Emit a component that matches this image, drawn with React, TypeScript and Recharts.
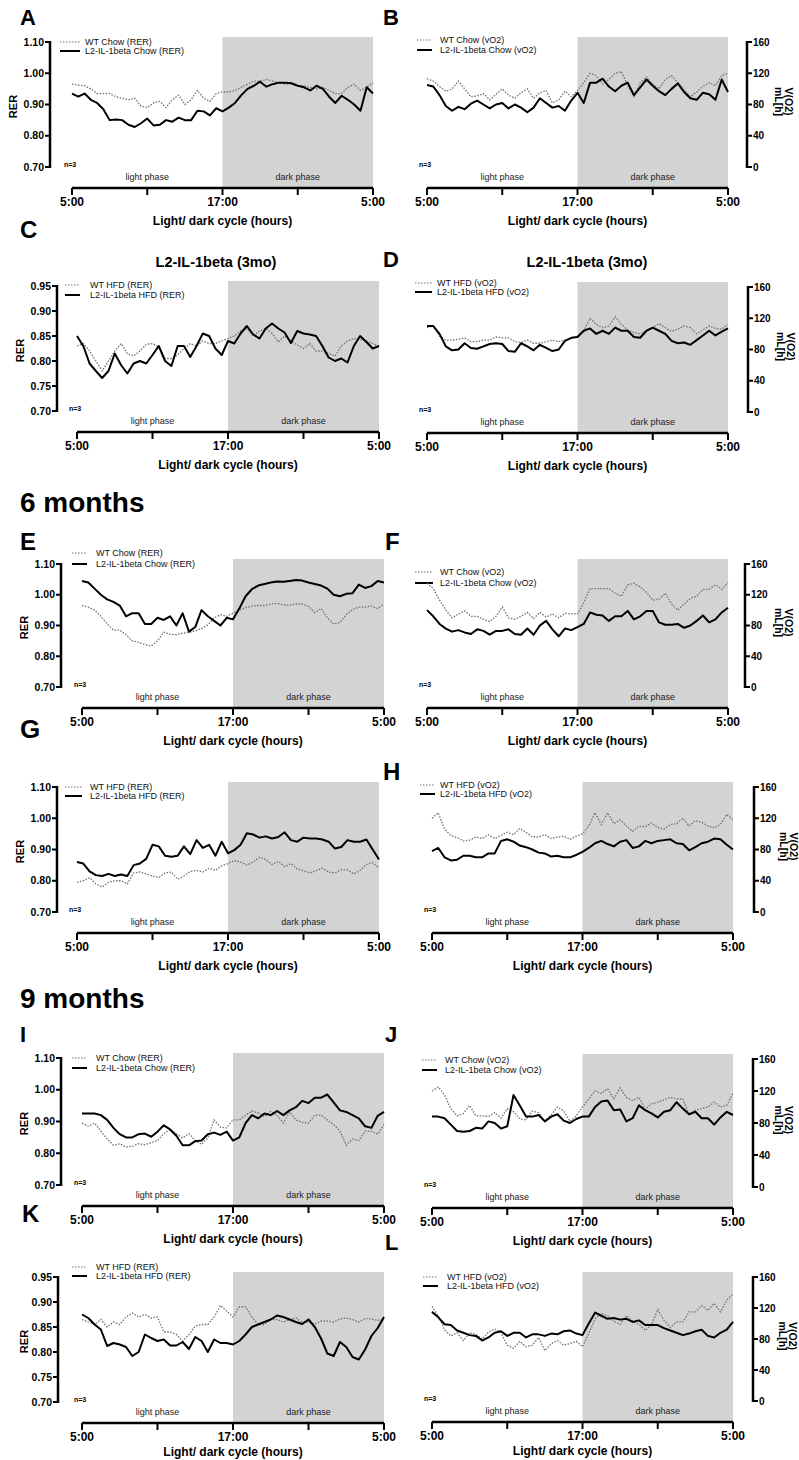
import React from 'react';
import { LineChart, Line, XAxis, YAxis, ReferenceArea, ReferenceLine } from 'recharts';

const FONT = '"Liberation Sans", Arial, Helvetica, sans-serif';
const SHADE = '#d3d3d3';
const WT_GREY = '#707070';

// sampling grid: hours after lights-on (5:00), every 30 min
const hours = [
  0, 0.5, 1, 1.5, 2, 2.5, 3, 3.5, 4, 4.5, 5, 5.5,
  6, 6.5, 7, 7.5, 8, 8.5, 9, 9.5, 10, 10.5, 11, 11.5,
  12, 12.5, 13, 13.5, 14, 14.5, 15, 15.5, 16, 16.5, 17, 17.5,
  18, 18.5, 19, 19.5, 20, 20.5, 21, 21.5, 22, 22.5, 23, 23.5, 24,
];
const hourTicks = [0, 6, 12, 18, 24];
const hourLabels = ['5:00', '', '17:00', '', '5:00'];
const rerTicks = [0.7, 0.8, 0.9, 1.0, 1.1];
const rerHfdTicks = [0.7, 0.75, 0.8, 0.85, 0.9, 0.95];
const vo2Ticks = [0, 40, 80, 120, 160];

// 3 months, chow
const aWt = [0.965, 0.962, 0.96, 0.95, 0.935, 0.935, 0.935, 0.925, 0.92, 0.915, 0.92, 0.895,
  0.89, 0.905, 0.91, 0.89, 0.915, 0.93, 0.9, 0.915, 0.945, 0.92, 0.91, 0.935,
  0.94, 0.94, 0.945, 0.955, 0.965, 0.975, 0.975, 0.98, 0.975, 0.97, 0.965, 0.965,
  0.96, 0.96, 0.955, 0.95, 0.955, 0.945, 0.935, 0.935, 0.955, 0.965, 0.945, 0.955, 0.97];
const aTg = [0.935, 0.925, 0.935, 0.915, 0.905, 0.885, 0.85, 0.852, 0.85, 0.835, 0.828, 0.84,
  0.855, 0.833, 0.835, 0.85, 0.845, 0.858, 0.85, 0.85, 0.88, 0.878, 0.865, 0.888,
  0.878, 0.89, 0.905, 0.93, 0.95, 0.96, 0.973, 0.957, 0.965, 0.97, 0.97, 0.968,
  0.96, 0.955, 0.945, 0.96, 0.95, 0.925, 0.905, 0.928, 0.915, 0.9, 0.88, 0.955, 0.935];
const bWt = [113, 110, 103, 97, 100, 110, 100, 90, 91, 94, 86, 93,
  100, 92, 88, 95, 100, 88, 95, 98, 82, 86, 97, 90,
  98, 108, 120, 117, 106, 112, 120, 122, 104, 90, 108, 115,
  106, 100, 112, 117, 108, 99, 90, 96, 103, 108, 104, 117, 120];
const bTg = [105, 103, 92, 78, 72, 77, 74, 81, 85, 80, 75, 80,
  82, 75, 80, 76, 70, 76, 88, 82, 76, 78, 72, 85,
  95, 82, 108, 108, 113, 103, 97, 104, 108, 92, 102, 112,
  104, 97, 92, 100, 107, 96, 88, 86, 95, 93, 86, 112, 96];

// 3 months, HFD
const cWt = [0.83, 0.835, 0.82, 0.8, 0.78, 0.8, 0.82, 0.835, 0.815, 0.81, 0.82, 0.833,
  0.835, 0.828, 0.805, 0.805, 0.812, 0.825, 0.835, 0.83, 0.84, 0.835, 0.835, 0.84,
  0.845, 0.85, 0.86, 0.865, 0.85, 0.86, 0.865, 0.855, 0.838, 0.85, 0.84, 0.832,
  0.825, 0.835, 0.82, 0.82, 0.815, 0.81, 0.83, 0.84, 0.845, 0.843, 0.84, 0.835, 0.83];
const cTg = [0.85, 0.83, 0.795, 0.78, 0.766, 0.78, 0.815, 0.792, 0.775, 0.795, 0.8, 0.795,
  0.812, 0.83, 0.8, 0.79, 0.83, 0.83, 0.808, 0.83, 0.855, 0.85, 0.825, 0.812,
  0.84, 0.835, 0.855, 0.87, 0.853, 0.845, 0.865, 0.875, 0.865, 0.857, 0.836, 0.86,
  0.855, 0.853, 0.85, 0.83, 0.807, 0.8, 0.805, 0.797, 0.83, 0.85, 0.838, 0.825, 0.83];
const dWt = [108, 110, 97, 92, 92, 93, 95, 90, 90, 92, 92, 96,
  95, 95, 90, 89, 92, 88, 88, 90, 92, 90, 92, 94,
  97, 104, 120, 112, 108, 110, 122, 112, 105, 102, 100, 104,
  108, 113, 108, 103, 106, 110, 108, 100, 105, 110, 107, 106, 112];
const dTg = [110, 110, 100, 84, 79, 80, 88, 82, 81, 84, 87, 88,
  87, 78, 77, 88, 84, 79, 86, 82, 78, 80, 91, 95,
  96, 104, 107, 100, 104, 100, 108, 104, 104, 96, 95, 104,
  108, 104, 100, 91, 88, 89, 86, 92, 98, 104, 98, 103, 107];

// 6 months, chow
const eWt = [0.965, 0.96, 0.95, 0.93, 0.905, 0.885, 0.885, 0.87, 0.85, 0.845, 0.838, 0.833,
  0.85, 0.878, 0.872, 0.87, 0.875, 0.878, 0.882, 0.89, 0.902, 0.925, 0.935, 0.93,
  0.94, 0.95, 0.958, 0.963, 0.965, 0.965, 0.97, 0.972, 0.967, 0.966, 0.97, 0.97,
  0.962, 0.942, 0.955, 0.925, 0.905, 0.91, 0.935, 0.952, 0.96, 0.96, 0.963, 0.955, 0.97];
const eTg = [1.045, 1.04, 1.02, 1.0, 0.985, 0.977, 0.965, 0.93, 0.94, 0.94, 0.905, 0.905,
  0.925, 0.918, 0.93, 0.9, 0.94, 0.88, 0.895, 0.95, 0.93, 0.915, 0.9, 0.925,
  0.92, 0.955, 0.995, 1.018, 1.03, 1.035, 1.04, 1.043, 1.042, 1.045, 1.048, 1.046,
  1.04, 1.035, 1.03, 1.02, 1.0, 0.995, 1.003, 1.005, 1.033, 1.022, 1.028, 1.045, 1.04];
const fWt = [135, 128, 113, 100, 90, 95, 99, 92, 92, 88, 85, 92,
  104, 90, 88, 92, 97, 89, 97, 91, 95, 90, 96, 95,
  95, 110, 128, 128, 128, 128, 122, 118, 133, 135, 130, 123,
  113, 114, 122, 108, 100, 108, 115, 118, 127, 127, 133, 127, 136];
const fTg = [100, 92, 82, 76, 72, 74, 71, 69, 75, 73, 68, 73,
  73, 75, 69, 68, 76, 68, 80, 86, 75, 66, 76, 74,
  78, 82, 97, 94, 93, 86, 92, 92, 99, 88, 92, 99,
  99, 84, 81, 81, 82, 77, 80, 86, 93, 84, 88, 97, 103];

// 6 months, HFD
const gWt = [0.795, 0.8, 0.81, 0.79, 0.78, 0.795, 0.8, 0.8, 0.79, 0.825, 0.828, 0.822,
  0.815, 0.81, 0.825, 0.828, 0.805, 0.815, 0.83, 0.833, 0.828, 0.84, 0.833, 0.848,
  0.855, 0.865, 0.86, 0.85, 0.86, 0.875, 0.868, 0.852, 0.862, 0.845, 0.855, 0.838,
  0.832, 0.825, 0.832, 0.84, 0.828, 0.825, 0.835, 0.835, 0.822, 0.833, 0.852, 0.858, 0.84];
const gTg = [0.86, 0.855, 0.83, 0.818, 0.815, 0.822, 0.815, 0.82, 0.815, 0.85, 0.855, 0.87,
  0.915, 0.91, 0.88, 0.877, 0.88, 0.91, 0.885, 0.93, 0.905, 0.915, 0.88, 0.925,
  0.888, 0.898, 0.915, 0.952, 0.948, 0.938, 0.942, 0.935, 0.94, 0.955, 0.93, 0.925,
  0.938, 0.935, 0.935, 0.932, 0.925, 0.903, 0.908, 0.93, 0.925, 0.925, 0.932, 0.9, 0.868];
const hWt = [120, 127, 106, 98, 95, 91, 92, 96, 94, 99, 94, 98,
  102, 99, 107, 102, 96, 96, 99, 94, 96, 97, 93, 97,
  100, 110, 127, 112, 127, 113, 118, 110, 103, 110, 109, 114,
  108, 106, 112, 113, 120, 110, 117, 115, 110, 108, 112, 125, 118];
const hTg = [78, 82, 70, 66, 67, 72, 72, 70, 70, 75, 75, 91,
  93, 90, 85, 83, 80, 76, 75, 71, 72, 70, 70, 73,
  77, 82, 88, 91, 87, 84, 90, 92, 82, 84, 91, 88,
  91, 92, 93, 88, 87, 79, 83, 88, 90, 94, 93, 86, 80];

// 9 months, chow
const iWt = [0.895, 0.885, 0.895, 0.87, 0.845, 0.825, 0.83, 0.82, 0.822, 0.83, 0.827, 0.833,
  0.84, 0.862, 0.875, 0.862, 0.848, 0.862, 0.84, 0.828, 0.848, 0.905, 0.882, 0.88,
  0.905, 0.905, 0.92, 0.933, 0.927, 0.915, 0.932, 0.92, 0.895, 0.93, 0.905, 0.897,
  0.895, 0.92, 0.92, 0.905, 0.89, 0.87, 0.825, 0.845, 0.84, 0.87, 0.87, 0.86, 0.89];
const iTg = [0.925, 0.925, 0.925, 0.92, 0.905, 0.88, 0.86, 0.85, 0.85, 0.86, 0.862, 0.852,
  0.868, 0.888, 0.875, 0.855, 0.825, 0.825, 0.838, 0.84, 0.86, 0.865, 0.858, 0.868,
  0.84, 0.85, 0.895, 0.92, 0.91, 0.925, 0.92, 0.933, 0.92, 0.935, 0.945, 0.965,
  0.958, 0.975, 0.975, 0.985, 0.96, 0.935, 0.93, 0.92, 0.91, 0.885, 0.88, 0.918, 0.93];
const jWt = [120, 125, 115, 98, 89, 92, 102, 89, 89, 88, 93, 86,
  98, 94, 85, 84, 95, 93, 82, 90, 100, 95, 82, 89,
  100, 110, 120, 117, 123, 110, 124, 112, 108, 112, 97, 104,
  106, 109, 112, 110, 110, 90, 96, 98, 100, 106, 100, 102, 117];
const jTg = [88, 88, 86, 78, 70, 69, 70, 74, 73, 82, 80, 73,
  76, 115, 102, 88, 88, 90, 82, 88, 91, 83, 80, 85,
  88, 88, 100, 107, 108, 96, 97, 82, 86, 102, 96, 92,
  87, 94, 96, 106, 98, 91, 94, 86, 86, 78, 87, 94, 90];

// 9 months, HFD
const kWt = [0.865, 0.86, 0.855, 0.865, 0.85, 0.86, 0.855, 0.87, 0.878, 0.87, 0.875, 0.868,
  0.87, 0.84, 0.84, 0.835, 0.822, 0.835, 0.852, 0.855, 0.855, 0.87, 0.893, 0.882,
  0.87, 0.89, 0.89, 0.87, 0.855, 0.855, 0.865, 0.865, 0.86, 0.865, 0.868, 0.86,
  0.86, 0.856, 0.862, 0.862, 0.86, 0.866, 0.868, 0.865, 0.86, 0.867, 0.866, 0.863, 0.865];
const kTg = [0.875, 0.868, 0.855, 0.845, 0.812, 0.818, 0.815, 0.81, 0.792, 0.8, 0.835, 0.828,
  0.822, 0.825, 0.813, 0.813, 0.82, 0.806, 0.83, 0.822, 0.8, 0.825, 0.818, 0.818,
  0.815, 0.822, 0.835, 0.85, 0.855, 0.86, 0.865, 0.873, 0.87, 0.865, 0.86, 0.856,
  0.865, 0.85, 0.827, 0.797, 0.792, 0.82, 0.81, 0.79, 0.785, 0.805, 0.832, 0.848, 0.87];
const lWt = [122, 110, 92, 84, 88, 78, 88, 86, 80, 89, 93, 88,
  72, 68, 77, 70, 72, 82, 65, 74, 78, 72, 74, 77,
  70, 87, 106, 113, 110, 103, 99, 110, 103, 99, 91, 98,
  118, 104, 95, 102, 102, 115, 115, 123, 117, 126, 115, 130, 138];
const lTg = [115, 108, 99, 98, 91, 88, 85, 84, 78, 82, 88, 90,
  84, 88, 88, 82, 86, 86, 84, 87, 86, 90, 91, 87,
  85, 100, 114, 110, 106, 107, 105, 106, 102, 104, 98, 98,
  98, 94, 91, 88, 85, 87, 90, 92, 84, 82, 88, 92, 102];

type Kind = 'RER' | 'vO2';

type PanelDef = {
  kind: Kind;
  diet: 'Chow' | 'HFD';
  wt: number[];
  tg: number[];
  ticks: number[];
  top: number; // y of the highest tick
  span: number; // px from highest to lowest tick
  plotLeft: number;
  plotRight: number;
  gap: number; // detached y axis distance from the data area
  titleX: number; // baseline of the outer y-title line
  key: [number, number, number, number, number]; // sample x1, x2, text x, row 1 y, row 2 y
  xTitleLift?: number;
};

const panels: PanelDef[] = [
  { kind: 'RER', diet: 'Chow', wt: aWt, tg: aTg, ticks: rerTicks, top: 42, span: 125, plotLeft: 72, plotRight: 373, gap: 22, titleX: 17, key: [60, 80, 85, 42, 51] },
  { kind: 'vO2', diet: 'Chow', wt: bWt, tg: bTg, ticks: vo2Ticks, top: 42, span: 125, plotLeft: 427, plotRight: 728, gap: 19, titleX: 785, key: [417, 432, 440, 40, 50] },
  { kind: 'RER', diet: 'HFD', wt: cWt, tg: cTg, ticks: rerHfdTicks, top: 286, span: 125, plotLeft: 77, plotRight: 379, gap: 20, titleX: 24, key: [65, 80, 90, 285, 295] },
  { kind: 'vO2', diet: 'HFD', wt: dWt, tg: dTg, ticks: vo2Ticks, top: 287, span: 125, plotLeft: 427, plotRight: 728, gap: 20, titleX: 787, key: [415, 432, 437, 283, 292] },
  { kind: 'RER', diet: 'Chow', wt: eWt, tg: eTg, ticks: rerTicks, top: 564, span: 123, plotLeft: 82, plotRight: 384, gap: 21, titleX: 28, key: [72, 87, 96, 553, 564] },
  { kind: 'vO2', diet: 'Chow', wt: fWt, tg: fTg, ticks: vo2Ticks, top: 564, span: 123, plotLeft: 427, plotRight: 728, gap: 17, titleX: 785, key: [415, 433, 440, 572, 583] },
  { kind: 'RER', diet: 'HFD', wt: gWt, tg: gTg, ticks: rerTicks, top: 787, span: 125, plotLeft: 77, plotRight: 379, gap: 20, titleX: 24, key: [65, 82, 90, 787, 796] },
  { kind: 'vO2', diet: 'HFD', wt: hWt, tg: hTg, ticks: vo2Ticks, top: 787, span: 125, plotLeft: 432, plotRight: 733, gap: 21, titleX: 790, key: [420, 435, 440, 785, 794] },
  { kind: 'RER', diet: 'Chow', wt: iWt, tg: iTg, ticks: rerTicks, top: 1058, span: 127, plotLeft: 82, plotRight: 384, gap: 21, titleX: 28, key: [72, 87, 96, 1058, 1068] },
  { kind: 'vO2', diet: 'Chow', wt: jWt, tg: jTg, ticks: vo2Ticks, top: 1059, span: 128, plotLeft: 432, plotRight: 733, gap: 20, titleX: 785, key: [422, 437, 445, 1060, 1070] },
  { kind: 'RER', diet: 'HFD', wt: kWt, tg: kTg, ticks: rerHfdTicks, top: 1277, span: 125, plotLeft: 82, plotRight: 384, gap: 24, titleX: 28, key: [72, 87, 96, 1267, 1276], xTitleLift: 4 },
  { kind: 'vO2', diet: 'HFD', wt: lWt, tg: lTg, ticks: vo2Ticks, top: 1277, span: 124, plotLeft: 432, plotRight: 733, gap: 20, titleX: 789, key: [423, 438, 447, 1277, 1286], xTitleLift: 4 },
];

// panel letters: text, x, baseline, size
const letters: [string, number, number, number][] = [
  ['A', 20, 25, 22], ['B', 383, 25, 22], ['C', 20, 238, 24], ['D', 383, 267, 22],
  ['E', 20, 550, 24], ['F', 385, 550, 24], ['G', 20, 738, 26], ['H', 383, 780, 24],
  ['I', 20, 1042, 22], ['J', 385, 1042, 22], ['K', 22, 1222, 24], ['L', 385, 1250, 22],
];

const HEAD = 40; // chart top sits this far above the highest tick
const BAND_UP = 5; // shaded band reaches above the highest tick
const DROP = 21; // x axis sits below the lowest tick

function Panel({ p }: { p: PanelDef }) {
  const onRight = p.kind === 'vO2';
  const colLeft = onRight ? 400 : 0;
  const colWidth = onRight ? 399 : 400;
  const height = p.span + HEAD + DROP + 50;
  const left = p.plotLeft - colLeft;
  const right = p.plotRight - colLeft;
  const axisX = onRight ? right + p.gap : left - p.gap;
  const titleX = p.titleX - colLeft;
  const yMin = p.ticks[0];
  const yMax = p.ticks[p.ticks.length - 1];
  const midY = HEAD + p.span / 2;
  const chartTop = p.top - HEAD;
  const rows = hours.map((h, i) => ({ h, wt: p.wt[i], tg: p.tg[i] }));
  const fmt = (v: number) => (onRight ? String(v) : v.toFixed(2));
  const [s1, s2, tx, r1, r2] = p.key;
  const keyRows = [
    { label: `WT ${p.diet} (${p.kind})`, dotted: true, y: r1 - chartTop },
    { label: `L2-IL-1beta ${p.diet} (${p.kind})`, dotted: false, y: r2 - chartTop },
  ];

  const band = (fill: string) => (r: any) => (
    <rect x={r.x} y={r.y - BAND_UP} width={r.width} height={r.height + BAND_UP + DROP} fill={fill} stroke="none" />
  );
  const phaseLabel = (value: string) => ({
    value,
    position: 'insideBottom' as const,
    offset: -13,
    fontSize: 9,
    fill: '#222',
    fontFamily: FONT,
  });

  return (
    <div style={{ position: 'absolute', left: colLeft, top: chartTop }}>
      <LineChart
        width={colWidth}
        height={height}
        data={rows}
        margin={{ top: HEAD - BAND_UP, bottom: 5, left: onRight ? left : 0, right: onRight ? 0 : colWidth - right }}
        style={{ fontFamily: FONT }}
      >
        <ReferenceArea x1={0} x2={12} y1={yMin} y2={yMax} shape={band('none')} label={phaseLabel('light phase')} />
        <ReferenceArea x1={12} x2={24} y1={yMin} y2={yMax} shape={band(SHADE)} label={phaseLabel('dark phase')} />
        <XAxis
          type="number"
          dataKey="h"
          domain={[0, 24]}
          ticks={hourTicks}
          interval={0}
          tickFormatter={(v: number) => hourLabels[hourTicks.indexOf(v)]}
          height={45}
          tickSize={7}
          axisLine={{ stroke: '#000', strokeWidth: 2.5 }}
          tickLine={{ stroke: '#000', strokeWidth: 2 }}
          tick={{ fill: '#000', fontSize: 12, fontWeight: 700, fontFamily: FONT }}
          label={{
            value: 'Light/ dark cycle (hours)',
            position: 'insideBottom',
            offset: 8 + (p.xTitleLift ?? 0),
            fill: '#000',
            fontSize: 12,
            fontWeight: 700,
            fontFamily: FONT,
          }}
        />
        <YAxis
          orientation={onRight ? 'right' : 'left'}
          width={onRight ? colWidth - right : left}
          domain={[yMin, yMax]}
          ticks={p.ticks}
          padding={{ top: BAND_UP, bottom: DROP }}
          axisLine={false}
          tickLine={false}
          tick={(t: any) => (
            <g>
              <line x1={axisX} x2={onRight ? axisX + 5 : axisX - 5} y1={t.y} y2={t.y} stroke="#000" strokeWidth={2} />
              <text
                x={onRight ? axisX + 6 : axisX - 6}
                y={t.y}
                dy={3.7}
                textAnchor={onRight ? 'start' : 'end'}
                fontSize={onRight ? 10 : 10.5}
                fontWeight={700}
                fontFamily={FONT}
                fill="#000"
              >
                {fmt(t.payload.value)}
              </text>
            </g>
          )}
        />
        <ReferenceLine
          segment={[{ x: onRight ? 24 : 0, y: yMin }, { x: onRight ? 24 : 0, y: yMax }]}
          stroke="#000"
          shape={(l: any) => (
            <line x1={axisX} x2={axisX} y1={l.y1 + 1} y2={l.y2 - 1} stroke="#000" strokeWidth={2.5} />
          )}
        />
        <Line type="linear" dataKey="wt" stroke={WT_GREY} strokeWidth={1.3} strokeDasharray="1.5 1.5" dot={false} isAnimationActive={false} />
        <Line type="linear" dataKey="tg" stroke="#000" strokeWidth={2} strokeLinejoin="round" dot={false} isAnimationActive={false} />

        {keyRows.map((k) => (
          <g key={k.label}>
            <line
              x1={s1 - colLeft}
              x2={s2 - colLeft}
              y1={k.y}
              y2={k.y}
              stroke={k.dotted ? WT_GREY : '#000'}
              strokeWidth={k.dotted ? 1.2 : 2}
              strokeDasharray={k.dotted ? '1.5 1.5' : undefined}
            />
            <text x={tx - colLeft} y={k.y + 3.2} fontSize={9} fontFamily={FONT} fill="#111">
              {k.label}
            </text>
          </g>
        ))}
        <text x={left - 8} y={HEAD + p.span} fontSize={7} fontWeight={700} fontFamily={FONT} fill="#000">
          n=3
        </text>
        {onRight ? (
          <g fontSize={10.5} fontWeight={700} fontFamily={FONT} fill="#000" textAnchor="middle">
            <text x={titleX} y={midY - 3} transform={`rotate(90, ${titleX}, ${midY - 3})`}>V(O2)</text>
            <text x={titleX - 10} y={midY - 3} transform={`rotate(90, ${titleX - 10}, ${midY - 3})`}>mL[h]</text>
          </g>
        ) : (
          <text
            x={titleX}
            y={midY + 2}
            transform={`rotate(-90, ${titleX}, ${midY + 2})`}
            textAnchor="middle"
            fontSize={11}
            fontWeight={700}
            fontFamily={FONT}
            fill="#000"
          >
            RER
          </text>
        )}
      </LineChart>
    </div>
  );
}

export default function App() {
  return (
    <div style={{ position: 'absolute', left: 0, top: 0, width: 799, height: 1460, overflow: 'hidden', background: '#fff' }}>
      <svg width={799} height={1460} style={{ position: 'absolute', left: 0, top: 0 }} fontFamily={FONT} fontWeight={700} fill="#000">
        {letters.map(([t, x, y, s]) => (
          <text key={t} x={x} y={y} fontSize={s}>{t}</text>
        ))}
        <text x={20} y={512} fontSize={28}>6 months</text>
        <text x={20} y={1008} fontSize={28}>9 months</text>
        <text x={216} y={267} fontSize={14.5} textAnchor="middle">L2-IL-1beta (3mo)</text>
        <text x={587} y={267} fontSize={14.5} textAnchor="middle">L2-IL-1beta (3mo)</text>
      </svg>
      {panels.map((p, i) => (
        <Panel key={i} p={p} />
      ))}
    </div>
  );
}
